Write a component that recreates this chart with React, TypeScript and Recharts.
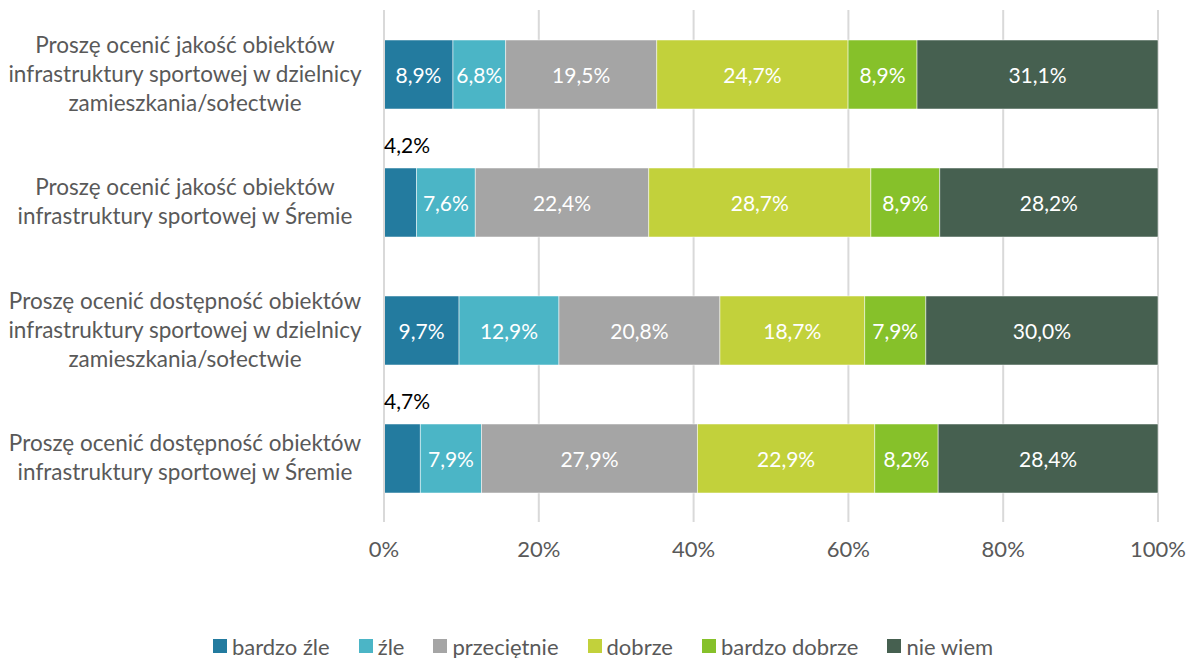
import React from 'react';
import { BarChart, Bar, XAxis, YAxis, CartesianGrid, Legend, LabelList } from 'recharts';

const categories = [
  'Proszę ocenić jakość obiektów infrastruktury sportowej w dzielnicy zamieszkania/sołectwie',
  'Proszę ocenić jakość obiektów infrastruktury sportowej w Śremie',
  'Proszę ocenić dostępność obiektów infrastruktury sportowej w dzielnicy zamieszkania/sołectwie',
  'Proszę ocenić dostępność obiektów infrastruktury sportowej w Śremie',
];
const categoryLines = [
  ['Proszę ocenić jakość obiektów', 'infrastruktury sportowej w dzielnicy', 'zamieszkania/sołectwie'],
  ['Proszę ocenić jakość obiektów', 'infrastruktury sportowej w Śremie'],
  ['Proszę ocenić dostępność obiektów', 'infrastruktury sportowej w dzielnicy', 'zamieszkania/sołectwie'],
  ['Proszę ocenić dostępność obiektów', 'infrastruktury sportowej w Śremie'],
];
const seriesNames = ['bardzo źle', 'źle', 'przeciętnie', 'dobrze', 'bardzo dobrze', 'nie wiem'];
const seriesColors = ['#237B9F', '#4BB5C6', '#A5A5A5', '#C2D13B', '#86C12A', '#466050'];
const bardzoZle = [8.9, 4.2, 9.7, 4.7];
const zle = [6.8, 7.6, 12.9, 7.9];
const przecietnie = [19.5, 22.4, 20.8, 27.9];
const dobrze = [24.7, 28.7, 18.7, 22.9];
const bardzoDobrze = [8.9, 8.9, 7.9, 8.2];
const nieWiem = [31.1, 28.2, 30.0, 28.4];
const xTicks = [0, 0.2, 0.4, 0.6, 0.8, 1];

const seriesValues = [bardzoZle, zle, przecietnie, dobrze, bardzoDobrze, nieWiem];
const keys = ['s0', 's1', 's2', 's3', 's4', 's5'];
const data = categories.map((c, i) => {
  const row: any = { name: c, idx: i };
  seriesValues.forEach((vals, j) => {
    row[keys[j]] = vals[i];
  });
  return row;
});

const FONT = 'Lato, "Open Sans", sans-serif';

const fmt = (v: number) => v.toFixed(1).replace('.', ',') + '%';

const YTick = (props: any) => {
  const { y, payload } = props;
  const idx = categories.indexOf(payload.value);
  const lines = categoryLines[idx] || [payload.value];
  const lh = 29;
  const startY = y - ((lines.length - 1) * lh) / 2;
  return (
    <text x={185} y={startY} textAnchor="middle" fill="#595959" fontSize={22.5} fontFamily={FONT}>
      {lines.map((l, k) => (
        <tspan key={k} x={185} y={startY + k * lh} dy="0.35em">
          {l}
        </tspan>
      ))}
    </text>
  );
};

const makeLabel = (s: number) => (props: any) => {
  const { x, y, width, height, value } = props;
  if (value == null) return null;
  if (value < 5) {
    return (
      <text x={x} y={y - 24} textAnchor="start" dominantBaseline="central" fill="#000" fontSize={21} fontFamily={FONT}>
        {fmt(value)}
      </text>
    );
  }
  return (
    <text x={x + width / 2} y={y + height / 2} textAnchor="middle" dominantBaseline="central" fill="#fff" fontSize={21} fontFamily={FONT}>
      {fmt(value)}
    </text>
  );
};

const LegendContent = () => (
  <div style={{ display: 'flex', justifyContent: 'center', alignItems: 'center', height: 24, fontFamily: FONT, fontSize: 22, color: '#595959', paddingLeft: 48 }}>
    {seriesNames.map((n, i) => (
      <div key={n} style={{ display: 'flex', alignItems: 'center', marginRight: i < seriesNames.length - 1 ? 29 : 0 }}>
        <span style={{ display: 'inline-block', width: 14, height: 14, background: seriesColors[i], marginRight: 5 }} />
        <span>{n}</span>
      </div>
    ))}
  </div>
);

export default function App() {
  return (
    <div style={{ position: 'absolute', left: 0, top: 0, width: 1195, height: 658, background: '#fff' }}>
      <BarChart
        width={1195}
        height={658}
        data={data}
        layout="vertical"
        stackOffset="expand"
        margin={{ top: 10, right: 37, left: 0, bottom: 32 }}
        barSize={69}
      >
        <CartesianGrid horizontal={false} stroke="#d9d9d9" strokeWidth={2} />
        <XAxis
          type="number"
          domain={[0, 1]}
          ticks={xTicks}
          tickFormatter={(v: number) => `${Math.round(v * 100)}%`}
          axisLine={false}
          tickLine={false}
          tickSize={0}
          tickMargin={19}
          height={80}
          tick={{ fill: '#595959', fontSize: 22, fontFamily: FONT }}
          interval={0}
        />
        <YAxis
          type="category"
          dataKey="name"
          width={384}
          axisLine={{ stroke: '#d9d9d9', strokeWidth: 2 }}
          tickLine={false}
          tick={<YTick />}
          interval={0}
        />
        <Legend verticalAlign="bottom" height={24} wrapperStyle={{ bottom: 0 }} content={<LegendContent />} />
        {keys.map((k, j) => (
          <Bar key={k} dataKey={k} name={seriesNames[j]} stackId="a" fill={seriesColors[j]} stroke="#ffffff" strokeWidth={0.5} isAnimationActive={false}>
            <LabelList dataKey={k} content={makeLabel(j)} />
          </Bar>
        ))}
      </BarChart>
    </div>
  );
}
